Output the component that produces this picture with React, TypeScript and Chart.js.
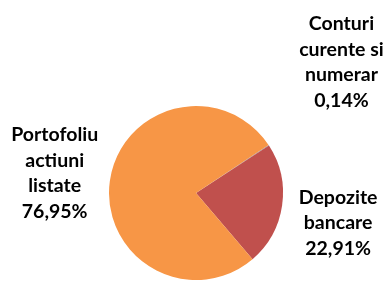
import React, { useEffect, useRef } from "react";
import { Chart, registerables } from "chart.js";

Chart.register(...registerables);

const categories = ["Conturi curente si numerar", "Depozite bancare", "Portofoliu actiuni listate"];
const labelLines = [
  ["Conturi", "curente si", "numerar"],
  ["Depozite", "bancare"],
  ["Portofoliu", "actiuni", "listate"],
];
const values = [0.14, 22.91, 76.95];
const colors = ["#7F8FA9", "#C0504D", "#F79646"];

const labelPlugin = {
  id: "outsideLabels",
  afterDatasetsDraw(chart: any) {
    const ctx = chart.ctx;
    const meta = chart.getDatasetMeta(0);
    const distFactor = [2.25, 1.67, 1.64];
    const angleOverride: (number | null)[] = [48, 102, null];
    ctx.save();
    ctx.fillStyle = "#000";
    ctx.font = "bold 19.5px Lato";
    ctx.textAlign = "center";
    ctx.textBaseline = "middle";
    meta.data.forEach((arc: any, i: number) => {
      const p = arc.getProps(["x", "y", "startAngle", "endAngle", "outerRadius"], true);
      let mid = (p.startAngle + p.endAngle) / 2;
      if (angleOverride[i] !== null) mid = ((angleOverride[i] as number) - 90) * Math.PI / 180;
      const d = p.outerRadius * distFactor[i];
      const cx = p.x + Math.cos(mid) * d;
      const cy = p.y + Math.sin(mid) * d;
      const lines = [...labelLines[i], values[i].toFixed(2).replace(".", ",") + "%"];
      const lh = 25.5;
      const top = cy - ((lines.length - 1) * lh) / 2;
      lines.forEach((t, k) => ctx.fillText(t, cx, top + k * lh));
    });
    ctx.restore();
  },
};

export default function App() {
  const ref = useRef<HTMLCanvasElement>(null);
  useEffect(() => {
    document.body.style.margin = "0";
    const chart = new Chart(ref.current!, {
      type: "pie",
      data: {
        labels: categories,
        datasets: [
          {
            data: values,
            backgroundColor: colors,
            borderWidth: 0,
          },
        ],
      },
      options: {
        animation: false,
        responsive: false,
        maintainAspectRatio: false,
        rotation: 56.5,
        layout: { padding: { top: 106, bottom: 2, left: 109, right: 102 } },
        plugins: {
          legend: { display: false },
          tooltip: { enabled: false },
        },
      },
      plugins: [labelPlugin],
    });
    return () => chart.destroy();
  }, []);
  return (
    <div style={{ width: 385, height: 282, background: "#fff" }}>
      <canvas ref={ref} width={385} height={282} />
    </div>
  );
}
